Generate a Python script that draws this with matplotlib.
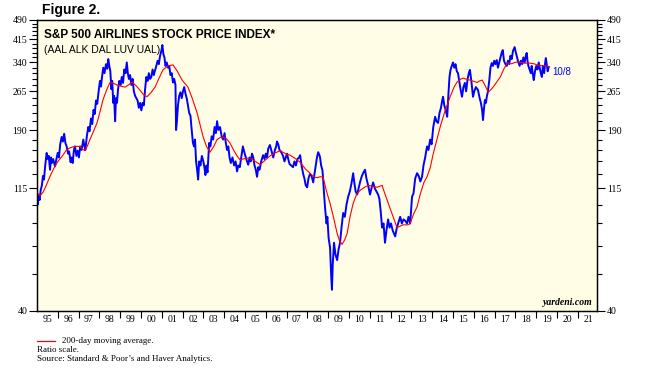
"""S&P 500 airlines stock price index with 200-day moving average (ratio scale)."""

import matplotlib
matplotlib.use("Agg")
import matplotlib.pyplot as plt
from matplotlib.ticker import FixedLocator, NullFormatter

# --- data (decimal year, index level) -----------------------------------------

price_t = [
    1995.00, 1995.04, 1995.08, 1995.13, 1995.18, 1995.24, 1995.29, 1995.34, 1995.40, 1995.47,
    1995.52, 1995.57, 1995.63, 1995.68, 1995.72, 1995.78, 1995.87, 1995.93, 1996.00, 1996.06,
    1996.12, 1996.19, 1996.25, 1996.31, 1996.37, 1996.43, 1996.50, 1996.55, 1996.62, 1996.67,
    1996.72, 1996.78, 1996.83, 1996.90, 1996.96, 1997.02, 1997.08, 1997.15, 1997.23, 1997.28,
    1997.33, 1997.40, 1997.47, 1997.53, 1997.60, 1997.66, 1997.72, 1997.78, 1997.84, 1997.90,
    1997.96, 1998.03, 1998.08, 1998.13, 1998.19, 1998.25, 1998.32, 1998.38, 1998.43, 1998.48,
    1998.53, 1998.58, 1998.62, 1998.67, 1998.71, 1998.76, 1998.80, 1998.85, 1998.90, 1998.96,
    1999.02, 1999.08, 1999.14, 1999.20, 1999.26, 1999.32, 1999.37, 1999.42, 1999.48, 1999.54,
    1999.60, 1999.66, 1999.72, 1999.78, 1999.84, 1999.90, 1999.96, 2000.02, 2000.08, 2000.14,
    2000.20, 2000.26, 2000.32, 2000.38, 2000.44, 2000.50, 2000.56, 2000.62, 2000.68, 2000.74,
    2000.80, 2000.86, 2000.92, 2000.98, 2001.03, 2001.08, 2001.13, 2001.18, 2001.24, 2001.30,
    2001.36, 2001.42, 2001.48, 2001.54, 2001.60, 2001.66, 2001.69, 2001.73, 2001.78, 2001.84,
    2001.90, 2001.96, 2002.02, 2002.08, 2002.14, 2002.20, 2002.26, 2002.32, 2002.38, 2002.44,
    2002.50, 2002.55, 2002.60, 2002.65, 2002.70, 2002.75, 2002.80, 2002.86, 2002.93, 2003.00,
    2003.05, 2003.10, 2003.15, 2003.20, 2003.28, 2003.34, 2003.40, 2003.47, 2003.54, 2003.60,
    2003.66, 2003.72, 2003.80, 2003.88, 2003.95, 2004.02, 2004.08, 2004.14, 2004.20, 2004.26,
    2004.32, 2004.40, 2004.48, 2004.55, 2004.62, 2004.68, 2004.75, 2004.82, 2004.90, 2004.96,
    2005.04, 2005.10, 2005.16, 2005.22, 2005.28, 2005.34, 2005.40, 2005.46, 2005.52, 2005.58,
    2005.64, 2005.70, 2005.78, 2005.87, 2005.94, 2006.00, 2006.06, 2006.12, 2006.20, 2006.28,
    2006.36, 2006.44, 2006.50, 2006.54, 2006.60, 2006.66, 2006.72, 2006.78, 2006.83, 2006.90,
    2006.96, 2007.02, 2007.08, 2007.14, 2007.22, 2007.31, 2007.38, 2007.45, 2007.52, 2007.60,
    2007.65, 2007.72, 2007.80, 2007.86, 2007.92, 2007.99, 2008.05, 2008.12, 2008.20, 2008.28,
    2008.34, 2008.40, 2008.46, 2008.52, 2008.58, 2008.61, 2008.66, 2008.72, 2008.75, 2008.80,
    2008.86, 2008.92, 2008.96, 2009.02, 2009.09, 2009.14, 2009.18, 2009.22, 2009.28, 2009.35,
    2009.43, 2009.50, 2009.57, 2009.64, 2009.72, 2009.80, 2009.88, 2009.96, 2010.04, 2010.12,
    2010.20, 2010.26, 2010.32, 2010.39, 2010.46, 2010.54, 2010.62, 2010.70, 2010.77, 2010.84,
    2010.92, 2011.01, 2011.08, 2011.16, 2011.24, 2011.32, 2011.40, 2011.46, 2011.52, 2011.59,
    2011.66, 2011.73, 2011.80, 2011.88, 2011.95, 2012.02, 2012.10, 2012.16, 2012.22, 2012.30,
    2012.38, 2012.46, 2012.54, 2012.62, 2012.70, 2012.79, 2012.86, 2012.94, 2013.03, 2013.10,
    2013.18, 2013.27, 2013.35, 2013.43, 2013.51, 2013.58, 2013.66, 2013.75, 2013.82, 2013.90,
    2013.97, 2014.05, 2014.14, 2014.20, 2014.28, 2014.35, 2014.42, 2014.48, 2014.52, 2014.58,
    2014.65, 2014.72, 2014.78, 2014.83, 2014.88, 2014.94, 2015.00, 2015.06, 2015.12, 2015.18,
    2015.24, 2015.30, 2015.36, 2015.43, 2015.50, 2015.57, 2015.63, 2015.70, 2015.76, 2015.81,
    2015.88, 2015.96, 2016.02, 2016.10, 2016.20, 2016.28, 2016.34, 2016.40, 2016.44, 2016.48,
    2016.53, 2016.58, 2016.63, 2016.67, 2016.74, 2016.80, 2016.86, 2016.92, 2016.98, 2017.04,
    2017.10, 2017.16, 2017.22, 2017.28, 2017.34, 2017.39, 2017.45, 2017.52, 2017.58, 2017.64,
    2017.70, 2017.76, 2017.82, 2017.88, 2017.96, 2018.02, 2018.08, 2018.14, 2018.20, 2018.26,
    2018.32, 2018.38, 2018.44, 2018.50, 2018.54, 2018.58, 2018.62, 2018.68, 2018.74, 2018.78,
    2018.84, 2018.88, 2018.94, 2019.00, 2019.06, 2019.12, 2019.18, 2019.24, 2019.27, 2019.32,
    2019.38, 2019.43, 2019.46, 2019.50, 2019.55, 2019.60,
]
price_v = [
    105, 100, 108, 104, 113, 118, 128, 124, 140, 156,
    148, 152, 135, 150, 143, 148, 139, 147, 156, 150,
    168, 179, 172, 184, 170, 165, 155, 158, 144, 150,
    143, 160, 165, 152, 159, 150, 165, 160, 175, 166,
    160, 180, 195, 188, 210, 200, 226, 218, 245, 238,
    262, 290, 276, 300, 325, 310, 335, 322, 350, 330,
    315, 270, 290, 240, 255, 205, 250, 240, 270, 290,
    280, 300, 285, 320, 310, 340, 310, 295, 305, 280,
    295, 265, 255, 250, 245, 230, 240, 225, 240, 235,
    270, 300, 290, 310, 295, 300, 320, 305, 318, 330,
    345, 335, 360, 375, 395, 365, 355, 330, 340, 325,
    330, 305, 310, 286, 295, 280, 190, 205, 235, 255,
    263, 250, 265, 275, 260, 250, 235, 220, 215, 190,
    170, 165, 175, 145, 135, 124, 145, 140, 152, 145,
    138, 129, 140, 132, 170, 165, 180, 175, 195, 185,
    205, 190, 195, 180, 175, 185, 170, 160, 165, 150,
    143, 150, 140, 145, 133, 140, 138, 150, 165, 158,
    150, 145, 141, 150, 145, 155, 150, 140, 135, 127,
    138, 135, 145, 153, 148, 155, 150, 162, 167, 158,
    150, 160, 165, 172, 168, 160, 158, 155, 152, 145,
    150, 155, 148, 142, 140, 138, 145, 140, 148, 150,
    153, 140, 130, 125, 118, 116, 125, 130, 128, 121,
    130, 140, 150, 157, 153, 150, 140, 135, 127, 110,
    95, 85, 90, 75, 69, 55, 48, 60, 72, 65,
    62, 68, 72, 82, 93, 90, 100, 107, 112, 120,
    131, 120, 112, 109, 115, 122, 128, 132, 135, 125,
    118, 109, 115, 121, 115, 112, 109, 105, 95, 82,
    85, 72, 80, 88, 82, 85, 80, 78, 76, 82,
    86, 90, 85, 88, 87, 85, 90, 85, 107, 110,
    125, 131, 128, 122, 127, 140, 150, 165, 160, 175,
    168, 195, 213, 205, 202, 220, 230, 245, 253, 235,
    225, 213, 260, 300, 319, 330, 340, 325, 335, 315,
    310, 290, 270, 253, 275, 285, 265, 295, 310, 319,
    290, 253, 265, 275, 268, 250, 240, 225, 207, 225,
    246, 240, 255, 263, 290, 325, 338, 330, 345, 335,
    347, 325, 340, 355, 370, 378, 345, 335, 330, 345,
    335, 360, 350, 375, 388, 370, 355, 340, 330, 345,
    335, 355, 340, 360, 369, 345, 330, 320, 310, 330,
    305, 292, 315, 330, 320, 340, 320, 305, 300, 330,
    310, 340, 353, 335, 315, 327,
]

ma_t = [
    1995.00, 1995.15, 1995.29, 1995.45, 1995.62, 1995.80, 1995.96, 1996.10, 1996.25, 1996.42,
    1996.59, 1996.80, 1997.07, 1997.20, 1997.31, 1997.43, 1997.55, 1997.72, 1997.89, 1998.05,
    1998.18, 1998.35, 1998.51, 1998.68, 1998.85, 1999.05, 1999.24, 1999.40, 1999.57, 1999.75,
    1999.95, 2000.12, 2000.29, 2000.48, 2000.68, 2000.88, 2001.06, 2001.30, 2001.54, 2001.75,
    2001.98, 2002.12, 2002.26, 2002.48, 2002.70, 2002.85, 2002.99, 2003.15, 2003.32, 2003.50,
    2003.66, 2003.80, 2003.95, 2004.12, 2004.28, 2004.45, 2004.62, 2004.76, 2004.90, 2005.10,
    2005.24, 2005.50, 2005.73, 2005.95, 2006.20, 2006.45, 2006.69, 2006.95, 2007.17, 2007.40,
    2007.65, 2007.90, 2008.13, 2008.30, 2008.47, 2008.60, 2008.75, 2008.92, 2009.09, 2009.25,
    2009.43, 2009.55, 2009.67, 2009.80, 2009.91, 2010.05, 2010.20, 2010.36, 2010.53, 2010.75,
    2010.92, 2011.15, 2011.35, 2011.59, 2011.72, 2011.83, 2011.97, 2012.12, 2012.31, 2012.45,
    2012.60, 2012.84, 2012.94, 2013.10, 2013.27, 2013.42, 2013.60, 2013.75, 2013.90, 2014.05,
    2014.20, 2014.38, 2014.60, 2014.86, 2015.05, 2015.19, 2015.35, 2015.48, 2015.65, 2015.82,
    2016.00, 2016.16, 2016.28, 2016.40, 2016.55, 2016.69, 2016.80, 2016.93, 2017.10, 2017.27,
    2017.45, 2017.60, 2017.80, 2017.98, 2018.15, 2018.37, 2018.55, 2018.70, 2018.90, 2019.03,
    2019.20, 2019.31, 2019.48, 2019.60,
]
ma_v = [
    111, 108, 111, 118, 127, 136, 143, 148, 153, 160,
    163, 165, 165, 161, 159, 166, 175, 188, 202, 225,
    247, 268, 286, 284, 280, 277, 275, 280, 287, 279,
    268, 258, 253, 262, 275, 298, 319, 330, 333, 315,
    292, 283, 275, 248, 220, 198, 179, 165, 157, 165,
    175, 178, 179, 176, 170, 160, 152, 147, 148, 149,
    149, 145, 141, 146, 152, 156, 159, 155, 153, 149,
    144, 136, 131, 127, 126, 127, 127, 112, 101, 90,
    78, 73, 71, 74, 78, 90, 101, 109, 113, 116,
    118, 117, 116, 118, 110, 104, 97, 90, 82, 83,
    84, 84, 85, 92, 98, 109, 121, 127, 137, 155,
    172, 195, 222, 253, 275, 287, 294, 297, 294, 292,
    289, 286, 290, 292, 278, 263, 268, 275, 287, 300,
    322, 338, 336, 340, 342, 338, 338, 338, 336, 333,
    331, 330, 330, 327,
]

last_label = "10/8"
year_labels = [f"{y % 100:02d}" for y in range(1995, 2022)]
y_major = [40, 115, 190, 265, 340, 415, 490]
y_minor = [v for v in range(40, 491, 15) if v not in y_major]

# --- figure ---------------------------------------------------------------------

serif = "Liberation Serif"
sans = "Liberation Sans"

fig = plt.figure(figsize=(6.45, 3.75), dpi=100)
ax = fig.add_axes([0.0572, 0.1707, 0.8684, 0.776])
ax.set_facecolor("#FFFDE6")

ax.plot(price_t, price_v, color="#0000FF", lw=1.4, zorder=2)
ax.plot(ma_t, ma_v, color="#FF0000", lw=0.8, zorder=3)

ax.set_yscale("log")
ax.set_ylim(40, 490)
ax.set_xlim(1995.0, 2021.92)

ax2 = ax.twinx()
ax2.set_yscale("log")
ax2.set_ylim(40, 490)

for a in (ax, ax2):
    a.yaxis.set_major_locator(FixedLocator(y_major))
    a.yaxis.set_minor_locator(FixedLocator(y_minor))
    a.yaxis.set_minor_formatter(NullFormatter())
    a.set_yticklabels([str(v) for v in y_major], fontfamily=serif, fontsize=7)
    a.tick_params(axis="y", which="major", length=6, width=0.8, pad=1)
    a.tick_params(axis="y", which="minor", length=3.5, width=0.8)
    for s in a.spines.values():
        s.set_linewidth(0.9)

# year boundaries as ticks, labels centred between them
ax.xaxis.set_major_locator(FixedLocator(range(1996, 2022)))
ax.xaxis.set_major_formatter(NullFormatter())
ax.xaxis.set_minor_locator(FixedLocator([y + 0.5 for y in range(1995, 2022)]))
ax.set_xticklabels(year_labels, minor=True, fontfamily=serif, fontsize=7)
ax.tick_params(axis="x", which="major", length=5, width=0.8)
ax.tick_params(axis="x", which="minor", length=0, pad=3)

ax.text(price_t[-1] + 0.15, 313, last_label, color="#0000FF", fontsize=7,
        fontfamily=sans, va="center", ha="left")

ax.text(0.012, 0.97, "S&P 500 AIRLINES STOCK PRICE INDEX*", transform=ax.transAxes,
        fontsize=8.5, fontweight="bold", fontfamily=sans, va="top", ha="left")
ax.text(0.012, 0.915, "(AAL ALK DAL LUV UAL)", transform=ax.transAxes,
        fontsize=7.5, fontfamily=sans, va="top", ha="left")
ax.text(0.992, 0.012, "yardeni.com", transform=ax.transAxes, fontsize=7,
        fontweight="bold", fontstyle="italic", fontfamily=serif, va="bottom", ha="right")

fig.text(42 / 645, 1 - 10 / 375, "Figure 2.", fontsize=10, fontweight="bold",
         fontfamily=sans, va="center", ha="left")

fig.add_artist(plt.Line2D([37 / 645, 55 / 645], [1 - 341 / 375] * 2,
                          color="#FF0000", lw=0.9, transform=fig.transFigure))
fig.text(62 / 645, 1 - 341 / 375, "200-day moving average.", fontsize=6.5,
         fontfamily=serif, va="center", ha="left")
fig.text(37 / 645, 1 - 350 / 375, "Ratio scale.", fontsize=6.5,
         fontfamily=serif, va="center", ha="left")
fig.text(37 / 645, 1 - 359 / 375, "Source: Standard & Poor\u2019s and Haver Analytics.",
         fontsize=6.5, fontfamily=serif, va="center", ha="left")

fig.savefig("out.png", dpi=100)
